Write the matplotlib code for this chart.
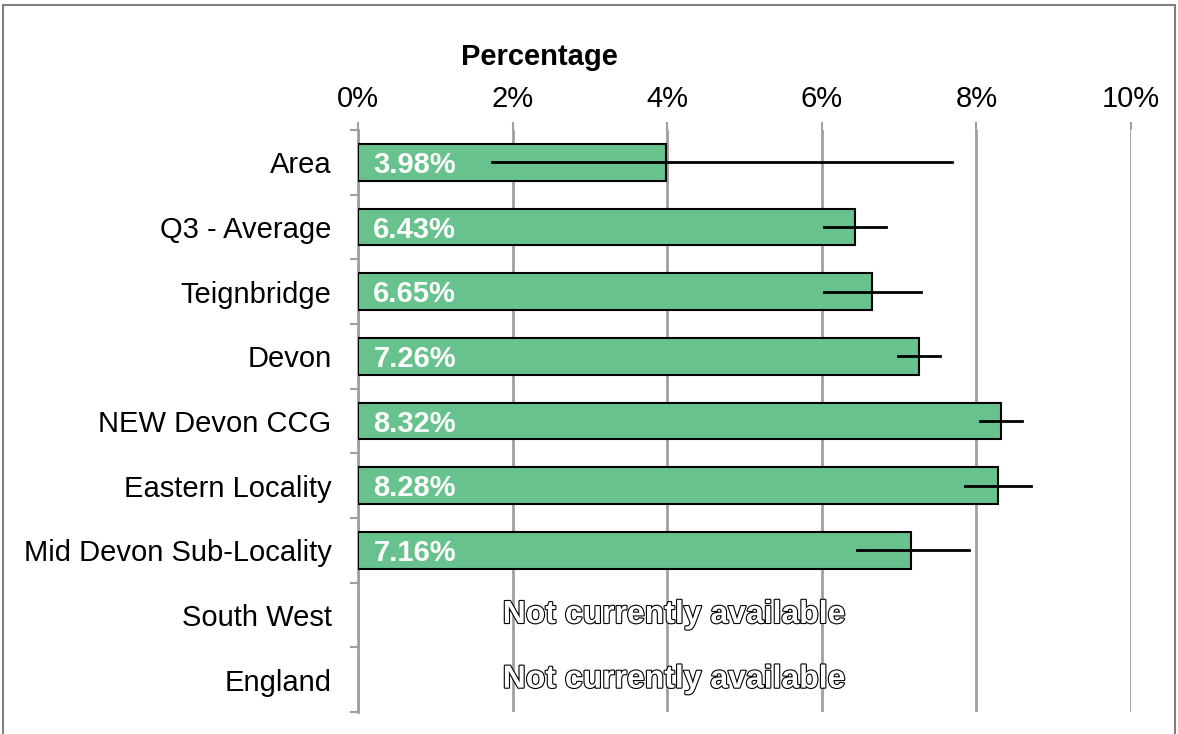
import matplotlib.pyplot as plt
import matplotlib.patheffects as pe
from matplotlib.patches import Rectangle
import numpy as np

categories = ["Area", "Q3 - Average", "Teignbridge", "Devon", "NEW Devon CCG",
              "Eastern Locality", "Mid Devon Sub-Locality", "South West", "England"]
values = [3.98, 6.43, 6.65, 7.26, 8.32, 8.28, 7.16, None, None]
ci_low = [1.73, 6.03, 6.03, 6.99, 8.05, 7.85, 6.46, None, None]
ci_high = [7.68, 6.83, 7.28, 7.53, 8.59, 8.71, 7.90, None, None]
x_ticks = [0, 2, 4, 6, 8, 10]
missing_text = "Not currently available"

bar_color = "#68C28E"
grid_color = "#A0A0A0"

plt.rcParams["font.family"] = ["Liberation Sans", "DejaVu Sans"]

fig = plt.figure(figsize=(11.78, 7.34), dpi=100)
ax = fig.add_axes([0.3039, 0.0300, 0.6562, 0.7929])

n = len(categories)
ypos = np.arange(n)

for i, (v, lo, hi) in enumerate(zip(values, ci_low, ci_high)):
    if v is None:
        ax.text(4.09, i, missing_text, ha="center", va="center", fontsize=23,
                fontweight="bold", color="white", zorder=4,
                path_effects=[pe.Stroke(linewidth=1.6, foreground="black"),
                              pe.Normal()])
        continue
    ax.barh(i, v, height=0.57, color=bar_color, edgecolor="black",
            linewidth=1.5, zorder=3)
    ax.plot([lo, hi], [i, i], color="black", linewidth=2, zorder=4)
    ax.annotate(f"{v:.2f}%", xy=(0, i), xytext=(11, -2), textcoords="offset points",
                ha="left", va="center", fontsize=21, fontweight="bold",
                color="white", zorder=5)

ax.set_xlim(0, 10)
ax.set_ylim(n - 0.5, -0.5)

ax.xaxis.tick_top()
ax.set_xticks(x_ticks)
ax.set_xticklabels([f"{t}%" for t in x_ticks], fontsize=21)
ax.tick_params(axis="x", length=6, width=1.5, color=grid_color, pad=6)
ax.grid(axis="x", color=grid_color, linewidth=2, zorder=0)
ax.text(0.235, 1.125, "Percentage", transform=ax.transAxes, ha="center",
        va="center", fontsize=21, fontweight="bold")

ax.set_yticks(ypos)
ax.set_yticklabels(categories, fontsize=21)
ax.set_yticks(np.arange(n + 1) - 0.5, minor=True)
ax.tick_params(axis="y", which="major", length=0, pad=19)
ax.tick_params(axis="y", which="minor", length=6, width=1.5, color=grid_color)

for s in ["top", "right", "bottom"]:
    ax.spines[s].set_visible(False)
ax.spines["left"].set_color(grid_color)
ax.spines["left"].set_linewidth(2)

fig.patches.append(Rectangle((3 / 1178, -0.1), 1172 / 1178, 1.1 - 5 / 734,
                             transform=fig.transFigure, fill=False,
                             edgecolor="#808080", linewidth=1.5))

fig.savefig("out.png", dpi=100)
